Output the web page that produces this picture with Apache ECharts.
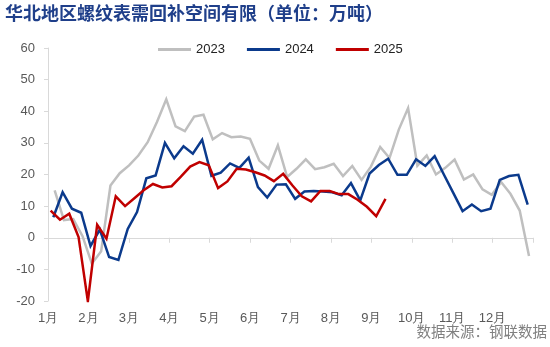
<!DOCTYPE html>
<html>
<head>
<meta charset="utf-8">
<script src="https://cdn.jsdelivr.net/npm/echarts@6/dist/echarts.min.js"></script>
<style>
html,body{margin:0;padding:0;background:#fff;}
#chart{width:550px;height:347px;}
</style>
</head>
<body>
<div id="chart"></div>
<script>
// Weekly series (Thursdays). Start dates of each year's first observation.
var seriesNames = ['2023', '2024', '2025'];
var startDates = ['2023-01-05', '2024-01-04', '2025-01-02'];
var monthLabels = ['1月','2月','3月','4月','5月','6月','7月','8月','9月','10月','11月','12月'];

var values2023 = [15.0, 5.6, 5.9, 0.5, -8.2, -4.3, 16.5, 20.4, 22.9, 26.0,
  30.2, 36.6, 43.8, 35.2, 33.7, 38.3, 38.9, 31.1, 33.1, 31.8,
  32.0, 31.3, 24.4, 21.8, 29.2, 19.2, 21.8, 24.8, 21.7, 22.3,
  23.4, 19.5, 22.7, 18.3, 22.5, 28.7, 25.2, 34.2, 41.0, 22.8,
  26.0, 20.0, 22.1, 24.7, 18.4, 20.0, 15.3, 13.6, 17.6, 13.9,
  8.6, -5.8];
var values2024 = [6.5, 14.4, 9.2, 7.9, -2.6, 2.6, -6.1, -7.0, 2.8, 8.1,
  18.8, 19.7, 30.0, 25.1, 28.9, 26.6, 31.0, 19.6, 20.6, 23.5,
  22.1, 25.3, 16.0, 12.7, 16.8, 16.9, 12.3, 14.6, 14.8, 14.6,
  14.4, 13.4, 17.3, 11.8, 20.3, 23.0, 25.0, 19.9, 19.9, 24.8,
  22.7, 25.8, 19.9, 14.2, 8.4, 10.5, 8.4, 9.2, 18.3, 19.5,
  19.9, 10.5];
var values2025 = [8.6, 5.7, 7.6, 0.2, -20.1, 4.1, -0.3, 13.1, 10.0, 12.5,
  15.0, 17.0, 15.9, 16.3, 19.3, 22.5, 23.9, 22.9, 15.7, 17.8,
  21.8, 21.6, 20.7, 19.7, 17.9, 20.2, 16.5, 13.1, 11.5, 14.8,
  14.8, 13.8, 13.8, 12.0, 9.8, 6.8, 12.3];

var allValues = [values2023, values2024, values2025];
var colors = ['#BFBFBF', '#0B3A8C', '#C00000'];

function dayOfYear(dateStr) {
  var d = new Date(dateStr + 'T00:00:00Z');
  var start = Date.UTC(d.getUTCFullYear(), 0, 1);
  return Math.round((d.getTime() - start) / 86400000) + 1;
}
function buildPoints(startDate, vals) {
  var d0 = dayOfYear(startDate);
  return vals.map(function (v, i) { return [d0 + 7 * i, v]; });
}

var DAYS = 365;
var monthStep = DAYS / 12;
var numFont = 'Arial, "Liberation Sans", sans-serif';

var chart = echarts.init(document.getElementById('chart'), null, {renderer: 'canvas'});
var option = {
  backgroundColor: '#ffffff',
  animation: false,
  title: {
    text: '华北地区螺纹表需回补空间有限（单位：万吨）',
    left: 5, top: 4, padding: 0,
    textStyle: {fontFamily: '"Noto Sans CJK SC", sans-serif', fontSize: 18, fontWeight: 'bold', color: '#1F3F8A'}
  },
  graphic: [{
    type: 'text', right: 3, top: 324,
    style: {text: '数据来源：钢联数据', fontFamily: '"Noto Sans CJK SC", sans-serif', fontSize: 14.5, fill: '#808080'}
  }],
  legend: {
    left: 158, top: 43, padding: 0,
    itemWidth: 33, itemHeight: 3, itemGap: 22,
    icon: 'rect',
    textStyle: {fontFamily: numFont, fontSize: 13, color: '#222'},
    data: seriesNames
  },
  grid: {left: 48, right: 17, top: 48, bottom: 46},
  xAxis: [{
    type: 'value', min: 0, max: DAYS, interval: monthStep,
    position: 'bottom',
    axisLine: {show: false, onZero: false},
    axisTick: {show: false},
    splitLine: {show: false},
    axisLabel: {
      margin: 11, fontFamily: numFont, fontSize: 13, color: '#595959',
      formatter: function (v) {
        var idx = Math.round(v / monthStep);
        return idx < 12 ? monthLabels[idx] : '';
      }
    }
  }, {
    type: 'value', min: 0, max: DAYS, interval: monthStep,
    position: 'top',
    axisLine: {show: true, onZero: true, lineStyle: {color: '#D9D9D9', width: 1}},
    axisTick: {show: true, inside: true, length: 5, lineStyle: {color: '#D9D9D9'}},
    axisLabel: {show: false},
    splitLine: {show: false}
  }],
  yAxis: {
    type: 'value', min: -20, max: 60, interval: 10,
    axisLine: {show: true, lineStyle: {color: '#D9D9D9'}},
    axisTick: {show: true, length: 4, lineStyle: {color: '#D9D9D9'}},
    splitLine: {show: false},
    axisLabel: {margin: 13, fontFamily: numFont, fontSize: 13, color: '#595959'}
  },
  series: seriesNames.map(function (name, k) {
    return {
      name: name, type: 'line', xAxisIndex: 0,
      data: buildPoints(startDates[k], allValues[k]),
      symbol: 'none', showSymbol: false,
      lineStyle: {color: colors[k], width: 2.5, join: 'miter'},
      itemStyle: {color: colors[k]},
      z: 2 + k
    };
  })
};
chart.setOption(option);
</script>
</body>
</html>
